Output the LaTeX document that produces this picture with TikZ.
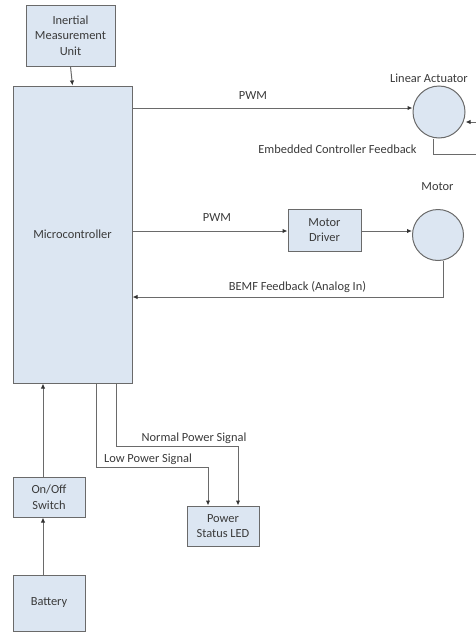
\documentclass[tikz,border=0pt]{standalone}
\usepackage{fontspec}
\setmainfont{Carlito}
\usetikzlibrary{arrows.meta}
\definecolor{boxfill}{HTML}{DCE6F2}
\definecolor{boxline}{HTML}{6A6A6A}
\definecolor{txt}{HTML}{3A3A3A}
\begin{document}
\begin{tikzpicture}[x=1pt,y=-1pt,
  every node/.style={font=\fontsize{12.4}{15.5}\selectfont, text=txt},
  blk/.style={draw=boxline, fill=boxfill, line width=1pt, align=center, inner sep=0pt},
  circ/.style={draw=boxline, fill=boxfill, line width=1pt, circle, inner sep=0pt},
  conn/.style={draw=boxline, line width=1pt, -{Latex[length=5pt,width=4.5pt,color=black!80]}},
  plain/.style={draw=boxline, line width=1pt},
  lbl/.style={inner sep=0pt}]
\useasboundingbox (0,0) rectangle (476,632);
% blocks
\node[blk, minimum width=89pt, minimum height=61pt] (imu) at (70.5,35.5) {Inertial\\Measurement\\Unit};
\node[blk, minimum width=119pt, minimum height=297pt] (mc) at (72.5,234.5) {Microcontroller};
\node[blk, minimum width=73pt, minimum height=42pt] (drv) at (324.5,230) {Motor\\Driver};
\node[circ, minimum size=52pt] (la) at (439,112) {};
\node[circ, minimum size=51pt] (mot) at (438,235) {};
\node[blk, minimum width=72pt, minimum height=40pt] (sw) at (49,497) {On/Off\\Switch};
\node[blk, minimum width=72pt, minimum height=56pt] (bat) at (49,603) {Battery};
\node[blk, minimum width=72pt, minimum height=40pt] (led) at (223,526) {Power\\Status LED};
% labels
\node[lbl] (lal) at (429,78) {Linear Actuator};
\node[lbl] (motl) at (437.5,187) {Motor};
\node[lbl] (pwm1) at (253,96) {PWM};
\node[lbl] (pwm2) at (217,218) {PWM};
\node[lbl] (ecf) at (337.5,149) {Embedded Controller Feedback};
\node[lbl] (bemfl) at (297.5,287) {BEMF Feedback (Analog In)};
\node[lbl] (npl) at (194,438) {Normal Power Signal};
\node[lbl] (lpl) at (148,459) {Low Power Signal};
% coordinates off the edge
\coordinate (laIn) at (476,122);
\coordinate (fbA) at (433,154);
\coordinate (fbB) at (476,154);
% connectors
\draw[conn] (imu.south) -- (mc.north);
\draw[conn] (mc.east |- 0,108) -- (la.west |- 0,108);
\draw[conn] (laIn) -- (la.east |- laIn);
\draw[plain] (la.south -| fbA) -- (fbA) -- (fbB);
\draw[conn] (mc.east |- 0,231) -- (drv.west |- 0,231);
\draw[conn] (drv.east |- 0,231) -- (mot.west |- 0,231);
\coordinate (bemf) at (443,297);
\draw[conn] (mot.south -| bemf) -- (bemf) -- (mc.east |- bemf);
\draw[conn] (bat.north -| 43,0) -- (sw.south -| 43,0);
\draw[conn] (sw.north -| 43,0) -- (mc.south -| 43,0);
\coordinate (lp1) at (96,467);
\coordinate (lp2) at (208,467);
\draw[conn] (mc.south -| lp1) -- (lp1) -- (lp2) -- (led.north -| lp2);
\coordinate (np1) at (116,446);
\coordinate (np2) at (238,446);
\draw[conn] (mc.south -| np1) -- (np1) -- (np2) -- (led.north -| np2);
\end{tikzpicture}
\end{document}
